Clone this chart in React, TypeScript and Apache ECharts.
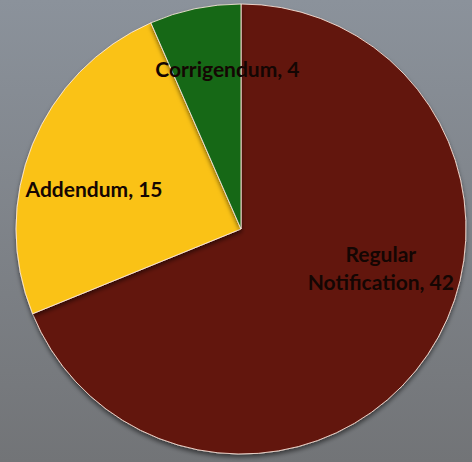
import React, { useEffect, useRef } from "react";
import * as echarts from "echarts";

const categories = ["Regular Notification", "Addendum", "Corrigendum"];
const values = [42, 15, 4];
const labelTexts = ["Regular\nNotification, 42", "Addendum, 15", "Corrigendum, 4"];

const sliceColors = ["#62130a", "#fac213", "#156815"];
const labelOffsets: [number, number][] = [
  [44, -26],
  [-40, 3],
  [10, -47],
];

export default function App() {
  const ref = useRef<HTMLDivElement>(null);
  useEffect(() => {
    if (!ref.current) return;
    const chart = echarts.init(ref.current, undefined, { renderer: "svg" });
    chart.setOption({
      animation: false,
      backgroundColor: {
        type: "linear",
        x: 0,
        y: 0,
        x2: 0,
        y2: 1,
        colorStops: [
          { offset: 0, color: "#8b929b" },
          { offset: 1, color: "#727477" },
        ],
      },
      series: [
        {
          type: "pie",
          center: [241, 229],
          radius: [0, 225],
          startAngle: 90,
          clockwise: true,
          avoidLabelOverlap: false,
          itemStyle: {
            borderColor: "rgba(255,235,225,0.85)",
            borderWidth: 1,
            shadowColor: "rgba(0,0,0,0.5)",
            shadowBlur: 4,
            shadowOffsetY: 3,
          },
          label: {
            show: true,
            position: "inside",
            color: "#140603",
            fontFamily: "Lato",
            fontWeight: "bold",
            fontSize: 21,
            lineHeight: 28,
            align: "center",
          },
          labelLine: { show: false },
          data: categories.map((name, i) => ({
            name,
            value: values[i],
            itemStyle: { color: sliceColors[i] },
            label: {
              formatter: labelTexts[i],
              offset: labelOffsets[i],
            },
          })),
        },
      ],
    });
    return () => chart.dispose();
  }, []);
  return (
    <div
      ref={ref}
      style={{ position: "absolute", left: 0, top: 0, width: 472, height: 462 }}
    />
  );
}
